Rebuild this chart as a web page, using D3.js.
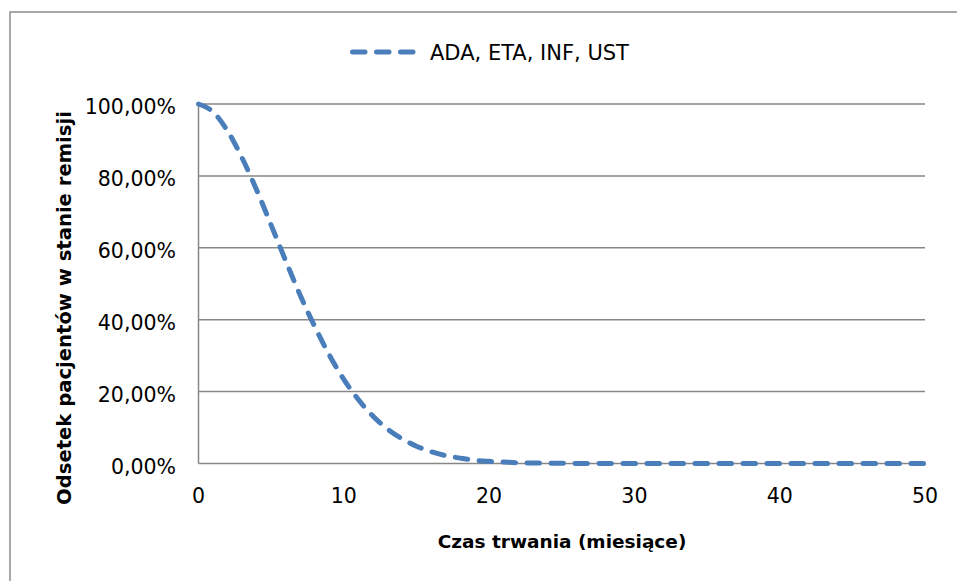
<!DOCTYPE html>
<html>
<head>
<meta charset="utf-8">
<script src="https://cdn.jsdelivr.net/npm/d3@7"></script>
<style>
  html, body { margin: 0; padding: 0; background: #fff; }
  svg text { font-family: "DejaVu Sans", sans-serif; fill: #000; }
</style>
</head>
<body>
<script>
var w = 957;
var h = 581;

// months since start
var months = d3.range(0, 51);
// share of patients in remission
var remission = [
  1.000, 0.978, 0.925, 0.850, 0.761, 0.663, 0.564, 0.468, 0.381, 0.302,
  0.234, 0.178, 0.132, 0.096, 0.069, 0.048, 0.033, 0.022, 0.015, 0.009,
  0.006, 0.004, 0.002, 0.0014, 0.0008, 0.0005, 0.0003, 0.0002, 0.0001, 0,
  0, 0, 0, 0, 0, 0, 0, 0, 0, 0,
  0, 0, 0, 0, 0, 0, 0, 0, 0, 0,
  0
];
var xTicks = [0, 10, 20, 30, 40, 50];
var yTicks = [0, 0.2, 0.4, 0.6, 0.8, 1.0];
var seriesName = "ADA, ETA, INF, UST";
var xTitle = "Czas trwania (miesiące)";
var yTitle = "Odsetek pacjentów w stanie remisji";

var blue = "#4a7ebb";
var grey = "#878787";

var svg = d3.select("body").append("svg")
  .attr("width", w)
  .attr("height", h);

// outer chart frame (runs off the right and bottom edge)
svg.append("rect")
  .attr("x", 10).attr("y", 12)
  .attr("width", 1000).attr("height", 700)
  .attr("fill", "none")
  .attr("stroke", "#8c8c8c")
  .attr("stroke-width", 1.5);

var x = d3.scaleLinear().domain([0, 50]).range([198.5, 925]);
var y = d3.scaleLinear().domain([0, 1]).range([463.5, 104]);

// gridlines
svg.selectAll("line.grid")
  .data(yTicks)
  .enter()
  .append("line")
  .attr("class", "grid")
  .attr("x1", x(0)).attr("x2", x(50))
  .attr("y1", function(d){ return y(d); })
  .attr("y2", function(d){ return y(d); })
  .attr("stroke", grey)
  .attr("stroke-width", 1.5);

// vertical axis line
svg.append("line")
  .attr("x1", x(0)).attr("x2", x(0))
  .attr("y1", y(1)).attr("y2", y(0))
  .attr("stroke", grey)
  .attr("stroke-width", 1.5);

// y tick labels
var pct = function(d){ return d3.format(".2f")(d * 100).replace(".", ",") + "%"; };
svg.selectAll("text.ytick")
  .data(yTicks)
  .enter()
  .append("text")
  .attr("class", "ytick")
  .attr("x", 176)
  .attr("y", function(d){ return y(d) + 3; })
  .attr("dy", "0.35em")
  .attr("text-anchor", "end")
  .attr("font-size", "20.5px")
  .text(pct);

// x tick labels
svg.selectAll("text.xtick")
  .data(xTicks)
  .enter()
  .append("text")
  .attr("class", "xtick")
  .attr("x", function(d){ return x(d); })
  .attr("y", 496)
  .attr("dy", "0.35em")
  .attr("text-anchor", "middle")
  .attr("font-size", "20.5px")
  .text(function(d){ return d; });

// axis titles
svg.append("text")
  .attr("x", 562)
  .attr("y", 542)
  .attr("dy", "0.35em")
  .attr("text-anchor", "middle")
  .attr("font-size", "18.5px")
  .attr("font-weight", "bold")
  .text(xTitle);

svg.append("text")
  .attr("transform", "translate(64,308) rotate(-90)")
  .attr("dy", "0.35em")
  .attr("text-anchor", "middle")
  .attr("font-size", "19.6px")
  .attr("font-weight", "bold")
  .text(yTitle);

// the series
var data = months.map(function(m, i){ return { month: m, value: remission[i] }; });

var line = d3.line()
  .x(function(d){ return x(d.month); })
  .y(function(d){ return y(d.value); })
  .curve(d3.curveMonotoneX);

svg.append("path")
  .datum(data)
  .attr("d", line)
  .attr("fill", "none")
  .attr("stroke", blue)
  .attr("stroke-width", 5)
  .attr("stroke-linecap", "round")
  .attr("stroke-dasharray", "12.5,11.5");

// legend
svg.append("line")
  .attr("x1", 352.5).attr("x2", 414)
  .attr("y1", 52).attr("y2", 52)
  .attr("stroke", blue)
  .attr("stroke-width", 5)
  .attr("stroke-linecap", "round")
  .attr("stroke-dasharray", "12.5,11.5");

svg.append("text")
  .attr("x", 430)
  .attr("y", 60)
  .attr("font-size", "21px")
  .text(seriesName);
</script>
</body>
</html>
